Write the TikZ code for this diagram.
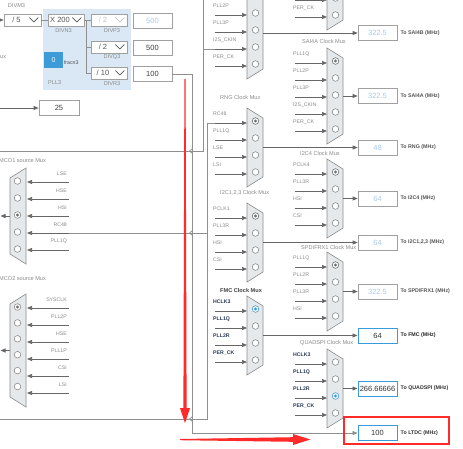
\documentclass[tikz,border=0pt]{standalone}
\usepackage{fontspec}
\setmainfont{Liberation Sans}
\usetikzlibrary{arrows.meta}
\definecolor{muxfill}{HTML}{E6E9EC}
\definecolor{muxline}{HTML}{8C8C8C}
\definecolor{circline}{HTML}{8C8C8C}
\definecolor{arrline}{HTML}{666666}
\definecolor{lblgray}{HTML}{8A8A8A}
\definecolor{lbldark}{HTML}{2B3A55}
\definecolor{wire}{HTML}{8F8F8F}
\definecolor{boxline}{HTML}{A0A0A0}
\definecolor{valblue}{HTML}{A9CBEA}
\definecolor{actblue}{HTML}{3A9BDC}
\definecolor{selgray}{HTML}{707070}
\definecolor{toclr}{HTML}{555555}
\definecolor{pllbg}{HTML}{DAE8F5}
\definecolor{fracblue}{HTML}{3D9BD8}
\definecolor{redmark}{HTML}{FF2A2A}
\definecolor{ddtxt}{HTML}{555555}
\definecolor{ddoff}{HTML}{C4C4C4}
\tikzset{
  muxs/.style={fill=muxfill,draw=muxline,line width=0.6pt},
  circ/.style={fill=white,draw=circline,line width=0.6pt},
  tipA/.style={-{Triangle[length=5pt,width=4pt]}},
  inarr/.style={draw=arrline,line width=0.7pt,tipA},
  inlbl/.style={font=\fontsize{5.2}{6}\selectfont,text=lblgray,inner sep=0pt},
  inlbld/.style={font=\fontsize{5.2}{6}\selectfont\bfseries,text=lbldark,inner sep=0pt},
  muxlbl/.style={font=\fontsize{5.6}{6}\selectfont,text=lblgray,inner sep=0pt,anchor=west},
  divlbl/.style={font=\fontsize{5.6}{6}\selectfont,text=lblgray,inner sep=0pt},
  wirel/.style={draw=wire,line width=0.7pt},
  valbox/.style={draw=boxline,line width=0.7pt,fill=white,minimum width=39pt,minimum height=15pt,inner sep=0pt,font=\fontsize{7.5}{8}\selectfont,text=valblue},
  actbox/.style={valbox,draw=actblue,line width=1pt,text=black!80},
  darkval/.style={valbox,text=black!75},
  tolbl/.style={font=\fontsize{5.3}{6}\selectfont\bfseries,text=toclr,inner sep=0pt,anchor=west},
  ddframe/.style={draw=boxline,fill=white,line width=0.6pt,inner sep=0pt},
  ddtext/.style={font=\fontsize{7.5}{8}\selectfont,inner sep=0pt},
}
% right-facing mux: #1 left x, #2 top, #3 n, #4 selected, #5 sel colour, #6 name
\newcommand\muxR[6]{%
  \pgfmathsetmacro\mH{28+(#3-1)*17}%
  \path[muxs] (#1,#2) -- (#1+16,#2+10) -- (#1+16,#2+\mH-10) -- (#1,#2+\mH) -- cycle;
  \coordinate (#6) at (#1+16,#2+\mH/2);
  \foreach \k in {1,...,#3}{%
    \pgfmathsetmacro\cy{#2+13+(\k-1)*17}%
    \ifnum\k=#4\relax
      \draw[circ,draw=#5] (#1+8.5,\cy) circle (3.3pt);
      \fill[#5] (#1+8.5,\cy) circle (1.6pt);
    \else
      \draw[circ] (#1+8.5,\cy) circle (3.3pt);
    \fi
  }%
}
% inputs of right-facing mux: #1 label x, #2 mux x, #3 top, #4 label style, #5 labels
\newcommand\muxIn[5]{%
  \foreach \lab [count=\k] in {#5}{%
    \pgfmathsetmacro\ay{#3+15+(\k-1)*17}%
    \draw[inarr] (#1+2,\ay) -- (#2,\ay);
    \ifdim\ay pt>13pt
      \node[#4,anchor=west] at (#1,\ay-9) {\lab};
    \fi
  }%
}
% left-facing mux: #1 right x, #2 top, #3 n, #4 circle spacing, #5 height, #6 selected, #7 name
\newcommand\muxL[7]{%
  \path[muxs] (#1,#2) -- (#1,#2+#5) -- (#1-16,#2+#5-10) -- (#1-16,#2+10) -- cycle;
  \coordinate (#7) at (#1-16,#2+#5/2);
  \foreach \k in {1,...,#3}{%
    \pgfmathsetmacro\cy{#2+13+(\k-1)*#4}%
    \ifnum\k=#6\relax
      \draw[circ] (#1-8.5,\cy) circle (3.3pt);
      \fill[selgray] (#1-8.5,\cy) circle (1.6pt);
    \else
      \draw[circ] (#1-8.5,\cy) circle (3.3pt);
    \fi
  }%
}
% inputs of left-facing mux: #1 start x, #2 mux right x, #3 first y, #4 spacing, #5 labels
\newcommand\muxInL[5]{%
  \foreach \lab [count=\k] in {#5}{%
    \pgfmathsetmacro\ay{#3+(\k-1)*#4}%
    \draw[inarr] (#1,\ay) -- (#2+1,\ay);
    \node[inlbl,anchor=east] at (#1-2,\ay-8.5) {\lab};
  }%
}
% dropdown: #1 name, #2 cx, #3 cy, #4 width, #5 text, #6 colour
\newcommand\ddbox[6]{%
  \node[ddframe,minimum width=#4pt,minimum height=12pt] (#1) at (#2,#3) {};
  \node[ddtext,text=#6] at ([xshift=-6pt]#1.center) {#5};
  \draw[#6,line width=0.7pt] ([xshift=-12pt,yshift=2.5pt]#1.east) -- ([xshift=-7.5pt,yshift=-2pt]#1.east) -- ([xshift=-3pt,yshift=2.5pt]#1.east);
}
\begin{document}
\begin{tikzpicture}[x=1pt,y=-1pt]
\useasboundingbox (0,0) rectangle (463,448);
\fill[white] (0,0) rectangle (463,448);
\begin{scope}
\clip (0,0) rectangle (463,448);
\coordinate (boxcol) at (377.5,0);
\coordinate (leftedge) at (0.5,0);

% ---------- PLL3 block ----------
\fill[pllbg] (43,9) rectangle (131,90);
\node[divlbl] at (16.5,6) {DIVM3};
\ddbox{ddM}{22.5}{20}{37}{/ 5}{ddtxt}
\ddbox{ddN}{66}{20}{36}{X 200}{ddtxt}
\ddbox{ddP}{109}{20}{36}{/ 2}{ddoff}
\ddbox{ddQ}{109}{47}{36}{/ 2}{ddtxt}
\ddbox{ddR}{109}{73}{36}{/ 10}{ddtxt}
\node[divlbl] at (63.5,30.7) {DIVN3};
\node[divlbl] at (112,30.7) {DIVP3};
\node[divlbl] at (112,57) {DIVQ3};
\node[divlbl] at (112,83.5) {DIVR3};
\draw[inarr] (-6,20) -- (ddM.west);
\draw[wirel] (ddM.east) -- (ddN.west);
\draw[wirel] (ddN.east) -- (ddP.west);
\coordinate (split) at (86,20);
\draw[wirel] (split) |- (ddQ.west);
\draw[wirel] (split) |- (ddR.west);
\node[fill=fracblue,minimum width=19pt,minimum height=16pt,inner sep=0pt,text=white,font=\fontsize{7}{8}\selectfont] (frac) at (53.5,60) {0};
\node[font=\fontsize{5.2}{6}\selectfont,text=black!70,anchor=west,inner sep=0pt] (fracl) at (63.8,63) {fracn3};
\node[muxlbl] (plll) at (48,83) {PLL3};
\node[muxlbl] (uxl) at (0,57) {ux};
\node[valbox] (v500a) at (152.5,20.5) {500};
\node[darkval] (v500b) at (152.5,47.5) {500};
\node[darkval] (v100) at (152.5,74) {100};
\node[darkval,minimum width=40pt] (v25) at (59,108) {25};
\draw[inarr] (0,108) -- (v25.west);

% ---------- buses ----------
\draw[wirel] (203,-2) -- (203,151) -- (0,151);
\draw[wirel] (203,49) -- (215,49);
\draw[wirel] (215,123) -- (207,123) -- (207,419) -- (0,419);
\draw[wirel] (207,233) -- (69,233);
\foreach \yy in {151,233,419} \draw[wirel] (192.5,\yy-2.5) -- (189.5,\yy) -- (192.5,\yy+2.5);

% ---------- right-facing muxes ----------
\muxIn{213}{247}{-17}{inlbl}{PLL1Q,PLL2P,PLL3P,I2S\_CKIN,PER\_CK}
\muxIn{293}{327}{-66}{inlbl}{PLL1Q,PLL2P,PLL3P,I2S\_CKIN,PER\_CK}
\muxIn{293}{327}{48}{inlbl}{PLL1Q,PLL2P,PLL3P,I2S\_CKIN,PER\_CK}
\muxIn{213}{247}{108}{inlbl}{RC48,PLL1Q,LSE,LSI}
\muxIn{293}{327}{159}{inlbl}{PCLK4,PLL3R,HSI,CSI}
\muxIn{213}{247}{203}{inlbl}{PCLK1,PLL3R,HSI,CSI}
\muxIn{293}{327}{252}{inlbl}{PLL1Q,PLL2R,PLL3R,HSI}
\muxIn{213}{247}{296}{inlbld}{HCLK3,PLL1Q,PLL2R,PER\_CK}
\muxIn{293}{327}{349}{inlbld}{HCLK3,PLL1Q,PLL2R,PER\_CK}

\muxR{247}{-17}{5}{0}{selgray}{muxA}
\coordinate (muxA) at (263,33);
\muxR{327}{-66}{5}{0}{selgray}{muxB}
\muxR{327}{48}{5}{1}{selgray}{muxSA}
\muxR{247}{108}{4}{1}{selgray}{muxRNG}
\muxR{327}{159}{4}{1}{selgray}{muxI4}
\muxR{247}{203}{4}{1}{selgray}{muxI1}
\muxR{327}{252}{4}{1}{selgray}{muxSP}
\muxR{247}{296}{4}{1}{actblue}{muxFMC}
\muxR{327}{349}{4}{3}{actblue}{muxQ}

\node[muxlbl] (lSA) at (302,41) {SAI4A Clock Mux};
\node[muxlbl] (lRNG) at (220,97) {RNG Clock Mux};
\node[muxlbl] (lI4) at (300,153) {I2C4 Clock Mux};
\node[muxlbl] (lI1) at (220,193) {I2C1,2,3 Clock Mux};
\node[muxlbl] (lSP) at (301,247) {SPDIFRX1 Clock Mux};
\node[muxlbl,font=\fontsize{5.6}{6}\selectfont\bfseries,text=black!75] (lFMC) at (220,290) {FMC Clock Mux};
\node[muxlbl] (lQ) at (300,343) {QUADSPI Clock Mux};

% ---------- outputs ----------
\node[valbox] (bxSB) at (muxA -| boxcol) {322.5};
\node[valbox] (bxSA) at (muxSA -| boxcol) {322.5};
\node[valbox] (bxRNG) at (muxRNG -| boxcol) {48};
\node[valbox] (bxI4) at (muxI4 -| boxcol) {64};
\node[valbox] (bxI1) at (muxI1 -| boxcol) {64};
\node[valbox] (bxSP) at (muxSP -| boxcol) {322.5};
\node[actbox] (bxFMC) at (muxFMC -| boxcol) {64};
\node[actbox] (bxQ) at (muxQ -| boxcol) {266.66666};
\node[actbox] (bxL) at (377.5,433) {100};
\draw[inarr] (muxA) -- (bxSB.west);
\draw[inarr] (muxSA) -- (bxSA.west);
\draw[inarr] (muxRNG) -- (bxRNG.west);
\draw[inarr] (muxI4) -- (bxI4.west);
\draw[inarr] (muxI1) -- (bxI1.west);
\draw[inarr] (muxSP) -- (bxSP.west);
\draw[inarr] (muxFMC) -- (bxFMC.west);
\draw[inarr] (muxQ) -- (bxQ.west);
\draw[inarr,draw=wire] (v100.east) -| (192,433) -- (bxL.west);
\node[tolbl] at ([xshift=3pt]bxSB.east) {To SAI4B (MHz)};
\node[tolbl] at ([xshift=3pt]bxSA.east) {To SAI4A (MHz)};
\node[tolbl] at ([xshift=3pt]bxRNG.east) {To RNG (MHz)};
\node[tolbl] at ([xshift=3pt]bxI4.east) {To I2C4 (MHz)};
\node[tolbl] at ([xshift=3pt]bxI1.east) {To I2C1,2,3 (MHz)};
\node[tolbl] at ([xshift=3pt]bxSP.east) {To SPDIFRX1 (MHz)};
\node[tolbl,text=black!85] at ([xshift=3pt]bxFMC.east) {To FMC (MHz)};
\node[tolbl,text=black!80] at ([xshift=3pt]bxQ.east) {To QUADSPI (MHz)};
\node[tolbl,text=black!80] at ([xshift=3pt]bxL.east) {To LTDC (MHz)};

% ---------- MCO muxes ----------
\node[muxlbl] at (-1,161) {MCO1 source Mux};
\node[muxlbl] at (-1,279) {MCO2 source Mux};
\muxInL{69}{26}{182}{17}{LSE,HSE,HSI,RC48,PLL1Q}
\muxInL{69}{26}{308}{17}{SYSCLK,PLL2P,HSE,PLL1P,CSI,LSI}
\muxL{26}{168}{5}{17}{96}{3}{mcoA}
\muxL{26}{294}{6}{15.9}{113}{1}{mcoB}
\draw[inarr] (mcoA) -- (mcoA -| leftedge);
\draw[inarr] (mcoB) -- (mcoB -| leftedge);

% ---------- red annotations ----------
\fill[redmark] (184.4,79) -- (185.6,79) -- (186.6,408) -- (190,408) -- (185,423) -- (180,408) -- (183.4,408) -- cycle;
\fill[redmark] (180,439) -- (180,440.2) -- (293,441.8) -- (293,445) -- (310.5,439.5) -- (293,434) -- (293,437.2) -- cycle;
\draw[redmark,line width=1.6pt] (344,417) rectangle (449,444);
\end{scope}
\end{tikzpicture}
\end{document}
